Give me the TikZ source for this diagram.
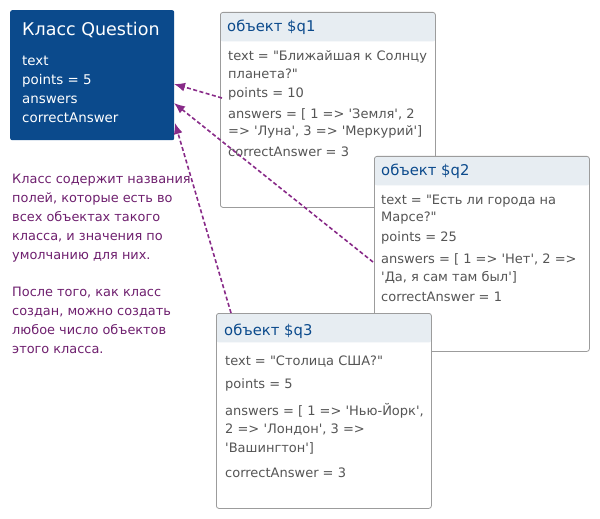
\documentclass[tikz,border=0pt]{standalone}
\usepackage{fontspec}
\setmainfont{DejaVu Sans}[Ligatures=TeXOff]
\usetikzlibrary{arrows.meta,positioning,calc}
\definecolor{classblue}{HTML}{0B4A8C}
\definecolor{headice}{HTML}{E7EDF2}
\definecolor{boxgray}{HTML}{9C9C9C}
\definecolor{bodygray}{HTML}{555555}
\definecolor{notepurple}{HTML}{6E1F6E}
\definecolor{linkpurple}{HTML}{882A88}
\tikzset{
  classbox/.style={
    rounded corners=2pt,
    fill=classblue,
    minimum width=164bp,
    minimum height=130bp,
    anchor=north west
  },
  objbox/.style={
    rounded corners=2.5pt,
    draw=boxgray,
    line width=0.8bp,
    fill=white,
    minimum width=215bp,
    minimum height=195bp,
    anchor=north west,
    path picture={
      \fill[headice] (path picture bounding box.north west)
        rectangle ([yshift=-29bp]path picture bounding box.north east);
    }
  },
  objtitle/.style={
    anchor=west,
    inner sep=0pt,
    text=classblue,
    font=\fontsize{14.8bp}{17bp}\selectfont
  },
  objbody/.style={
    anchor=north west,
    inner sep=0pt,
    align=left,
    text=bodygray,
    font=\fontsize{13bp}{17bp}\selectfont
  },
  notetext/.style={
    anchor=north west,
    inner sep=0pt,
    align=left,
    text=notepurple,
    font=\fontsize{12.9bp}{19bp}\selectfont
  },
  link/.style={
    -{Latex[length=11bp,width=9bp]},
    line width=1.6bp,
    draw=linkpurple,
    dash pattern=on 4bp off 2.5bp
  }
}
\begin{document}
\begin{tikzpicture}[x=1bp,y=-1bp]
\useasboundingbox (0,0) rectangle (600,519);
% class
\node[classbox] (cls) at (10,10) {};
\node[anchor=west, inner sep=0pt, text=white,
  font=\fontsize{17.5bp}{20bp}\selectfont] (clstitle) at (22,30) {Класс Question};
\node[notetext, text=white, font=\fontsize{13.4bp}{19bp}\selectfont] (clsfields) at (22,56)
  {text\\points = 5\\answers\\correctAnswer};
% note
\node[notetext] (note) at (12,174) {Класс содержит названия\\полей, которые есть во\\всех объектах такого\\класса, и значения по\\умолчанию для них.\\[18bp]После того, как класс\\создан, можно создать\\любое число объектов\\этого класса.};
% object q1
\node[objbox] (q1) at (220,12) {};
\node[objtitle] (q1title) at ($(q1.north west)+(7,15)$) {объект \$q1};
\node[objbody] (q1body) at ($(q1.north west)+(8,38)$)
  {text = "Ближайшая к Солнцу\\[1bp]планета?"\\[2bp]points = 10\\[4bp]answers = [ 1 => 'Земля', 2\\=> 'Луна', 3 => 'Меркурий']\\[4bp]correctAnswer = 3};
\coordinate (q1tail) at (222,98);
% links over q1
\coordinate (clsin1) at (174,84);
\coordinate (clsin2) at (174,103);
\coordinate (clsin3) at (175,123);
\coordinate (q2tail) at (373,262);
\draw[link] (q1tail) -- (clsin1);
\draw[link] (q2tail) -- (clsin2);
% object q2
\node[objbox] (q2) at (374,156) {};
\node[objtitle] (q2title) at ($(q2.north west)+(7,15)$) {объект \$q2};
\node[objbody] (q2body) at ($(q2.north west)+(7,39)$)
  {text = "Есть ли города на\\Марсе?"\\[3bp]points = 25\\[5bp]answers = [ 1 => 'Нет', 2 =>\\[1bp]'Да, я сам там был']\\[3bp]correctAnswer = 1};
% object q3
\node[objbox] (q3) at (216,313) {};
\node[objtitle] (q3title) at ($(q3.north west)+(8,18)$) {объект \$q3};
\node[objbody] (q3body) at ($(q3.north west)+(9,43)$)
  {text = "Столица США?"\\[6bp]points = 5\\[10bp]answers = [ 1 => 'Нью-Йорк',\\[1bp]2 => 'Лондон', 3 =>\\[2bp]'Вашингтон']\\[8bp]correctAnswer = 3};
\coordinate (q3tail) at (231,313);
\draw[link] (q3tail) -- (clsin3);
\end{tikzpicture}
\end{document}
